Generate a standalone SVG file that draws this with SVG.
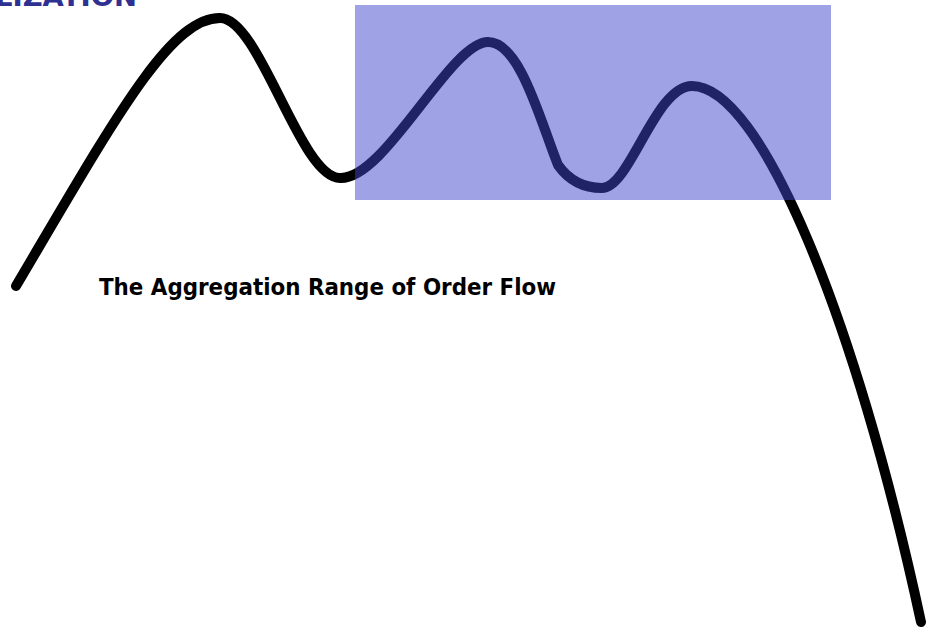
<svg xmlns="http://www.w3.org/2000/svg" width="926" height="635" viewBox="0 0 926 635">
  <style>
    .title { font-family: "DejaVu Sans", Verdana, sans-serif; font-weight: bold; fill: #2e3192; }
    .label { font-family: "DejaVu Sans", Verdana, sans-serif; font-weight: bold; fill: #000000; }
    .curve { fill: none; stroke: #000000; stroke-width: 10; stroke-linecap: round; stroke-linejoin: round; }
    .zone { fill: rgb(64,70,202); fill-opacity: 0.5; }
  </style>
  <rect width="926" height="635" fill="#ffffff"/>
  <g id="title">
    <text class="title" x="-5" y="6" font-size="27" textLength="142" lengthAdjust="spacingAndGlyphs">LIZATION</text>
  </g>
  <g id="connectors">
    <path id="price-curve" class="curve" d="M16,286 C117,115 170,18 220,18 C260,18 300,178 340,178 C385,180 450,42 488,42 C520,42 540,120 558,165 C570,182 585,188 602,188 C630,188 655,86 692,86 C760,86 855,315 921,622"/>
  </g>
  <g id="aggregation-zone">
    <rect class="zone" x="355" y="5" width="476" height="195"/>
  </g>
  <g id="label">
    <text class="label" x="99" y="295" font-size="22.5" textLength="457" lengthAdjust="spacingAndGlyphs">The Aggregation Range of Order Flow</text>
  </g>
</svg>
